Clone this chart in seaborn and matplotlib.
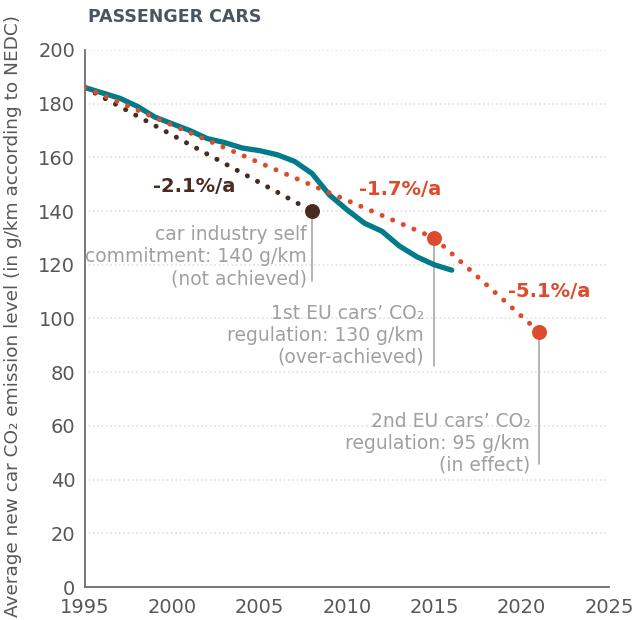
import matplotlib
matplotlib.use("Agg")
import matplotlib.pyplot as plt
import seaborn as sns
import pandas as pd

# Data
years = [1995, 1996, 1997, 1998, 1999, 2000, 2001, 2002, 2003, 2004, 2005,
         2006, 2007, 2008, 2009, 2010, 2011, 2012, 2013, 2014, 2015, 2016]
emissions = [186, 184, 182, 179, 175, 172.5, 170, 167, 165.5, 163.5, 162.5,
             161, 158.5, 154, 146, 140.5, 135.5, 132.5, 127, 123, 120, 118]

self_years = [1995, 2008]
self_values = [186, 140]

reg_years = [1995, 2015, 2021]
reg_values = [186, 130, 95]

x_ticks = [1995, 2000, 2005, 2010, 2015, 2020, 2025]
y_ticks = [0, 20, 40, 60, 80, 100, 120, 140, 160, 180, 200]

TEAL = "#007b8a"
ORANGE = "#dc4b2b"
BROWN = "#4a2b22"
GRAY_TXT = "#a0a0a0"
AXIS_TXT = "#55575b"

sns.set_style("white")
plt.rcParams["font.family"] = ["DejaVu Sans"]

df = pd.DataFrame({"year": years, "value": emissions})
df_self = pd.DataFrame({"year": self_years, "value": self_values})
df_reg = pd.DataFrame({"year": reg_years, "value": reg_values})

fig = plt.figure(figsize=(6.33, 6.2), dpi=100)
ax = fig.add_axes([0.1343, 0.0532, 0.8277, 0.8662])

# dotted horizontal grid
for y in y_ticks[1:]:
    ax.axhline(y, color="#d9d9d9", lw=1.2, linestyle=(0, (0.1, 2.5)),
               dash_capstyle="round", zorder=0)

sns.lineplot(data=df, x="year", y="value", ax=ax, color=TEAL, lw=3.8,
             solid_capstyle="round", zorder=3)
sns.lineplot(data=df_self, x="year", y="value", ax=ax, color=BROWN, lw=3.6,
             linestyle=(0, (0.01, 2.3)), dash_capstyle="round", zorder=4)
sns.lineplot(data=df_reg, x="year", y="value", ax=ax, color=ORANGE, lw=3.6,
             linestyle=(0, (0.01, 2.3)), dash_capstyle="round", zorder=4)

# end markers
ax.scatter(self_years[1:], self_values[1:], s=95, color=BROWN, zorder=5)
ax.scatter(reg_years[1:], reg_values[1:], s=95, color=ORANGE, zorder=5)

# callout leaders
ax.plot([2008, 2008], [140, 114], color="#a8a8a8", lw=1.2, zorder=2)
ax.plot([2015, 2015], [130, 82.3], color="#a8a8a8", lw=1.2, zorder=2)
ax.plot([2021, 2021], [95, 45.8], color="#a8a8a8", lw=1.2, zorder=2)

note_kw = dict(ha="right", va="top", color=GRAY_TXT, fontsize=13.5,
               linespacing=1.2)
ax.text(2007.7, 134.8, "car industry self\ncommitment: 140 g/km\n(not achieved)",
        **note_kw)
ax.text(2014.4, 105.4, "1st EU cars\u2019 CO\u2082\nregulation: 130 g/km\n(over-achieved)",
        **note_kw)
ax.text(2020.5, 65.2, "2nd EU cars\u2019 CO\u2082\nregulation: 95 g/km\n(in effect)",
        **note_kw)

rate_kw = dict(ha="center", va="center", fontsize=14, fontweight="bold")
ax.text(2001.25, 149.0, "-2.1%/a", color=BROWN, **rate_kw)
ax.text(2013.05, 147.9, "-1.7%/a", color=ORANGE, **rate_kw)
ax.text(2021.6, 110.2, "-5.1%/a", color=ORANGE, **rate_kw)

ax.set_xlim(1995, 2025)
ax.set_ylim(0, 200)
ax.set_xticks(x_ticks)
ax.set_yticks(y_ticks)
ax.tick_params(axis="both", length=0, labelsize=14, labelcolor=AXIS_TXT)
ax.tick_params(axis="x", pad=8)
ax.tick_params(axis="y", pad=7)

for side in ["top", "right"]:
    ax.spines[side].set_visible(False)
ax.spines["left"].set_color("#6d6e71")
ax.spines["bottom"].set_color("#6d6e71")
ax.spines["left"].set_linewidth(1.3)
ax.spines["bottom"].set_linewidth(1.3)

ax.set_xlabel("")
ax.set_ylabel("Average new car CO\u2082 emission level (in g/km according to NEDC)",
              fontsize=13.3, color=AXIS_TXT)
ax.yaxis.set_label_coords(-0.12, 0.505)

fig.text(0.139, 0.972, "PASSENGER CARS", fontsize=12.5, fontweight="bold",
         color="#4a5560", va="center", ha="left")

plt.savefig("out.png", dpi=100)
plt.close()
